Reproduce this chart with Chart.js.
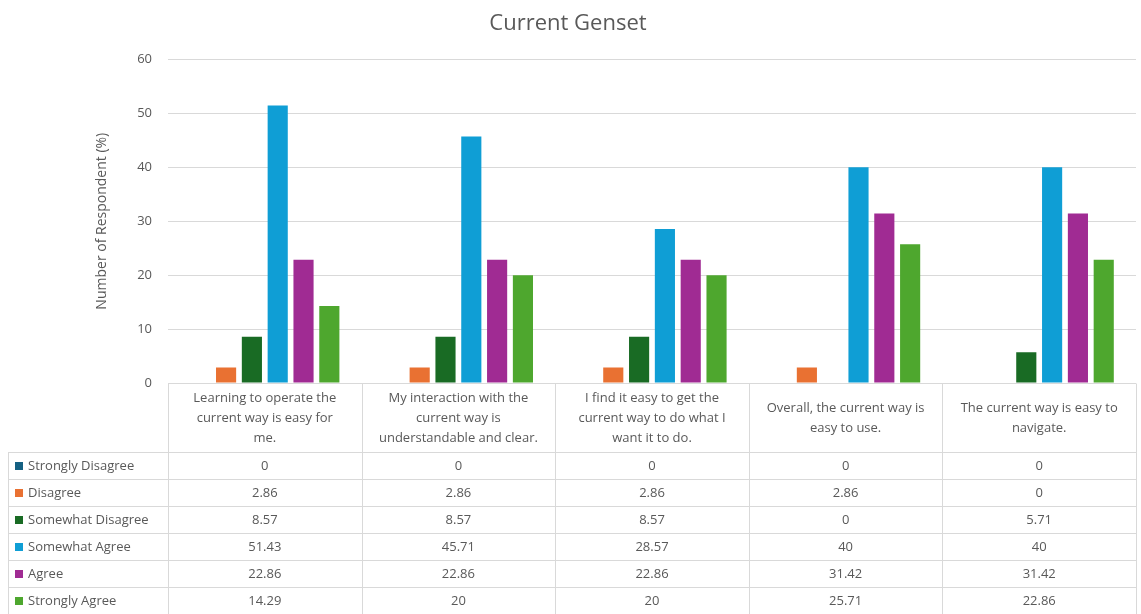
<!DOCTYPE html>
<html>
<head>
<meta charset="utf-8">
<script src="https://cdn.jsdelivr.net/npm/chart.js@4.4.1/dist/chart.umd.min.js"></script>
<style>
  html, body { margin: 0; padding: 0; background: #fff; }
  #wrap { width: 1141px; height: 614px; }
</style>
</head>
<body>
<div id="wrap"><canvas id="gensetChart" width="1141" height="614"></canvas></div>
<script>
// survey statements, already split into the lines shown in the table header
const categories = [
    ['Learning to operate the', 'current way is easy for', 'me.'],
    ['My interaction with the', 'current way is', 'understandable and clear.'],
    ['I find it easy to get the', 'current way to do what I', 'want it to do.'],
    ['Overall, the current way is', 'easy to use.'],
    ['The current way is easy to', 'navigate.']
];

const seriesNames = ['Strongly Disagree', 'Disagree', 'Somewhat Disagree', 'Somewhat Agree', 'Agree', 'Strongly Agree'];
const seriesColors = ['#156082', '#E97132', '#196B24', '#0F9ED5', '#A02B93', '#4EA72E'];

const stronglyDisagree = [0, 0, 0, 0, 0];
const disagree = [2.86, 2.86, 2.86, 2.86, 0];
const somewhatDisagree = [8.57, 8.57, 8.57, 0, 5.71];
const somewhatAgree = [51.43, 45.71, 28.57, 40, 40];
const agree = [22.86, 22.86, 22.86, 31.42, 31.42];
const stronglyAgree = [14.29, 20, 20, 25.71, 22.86];

const seriesValues = [stronglyDisagree, disagree, somewhatDisagree, somewhatAgree, agree, stronglyAgree];

const yMin = 0;
const yMax = 60;
const yStep = 10;

const textColor = '#595959';
const lineColor = '#d9d9d9';
const fontFamily = "'Open Sans', 'Liberation Sans', sans-serif";

// table geometry below the plot
const headerHeight = 69;
const rowHeight = 27;
const tableLeft = 8;
const yAxisWidth = 168;

// draws the data table (header row with the statements + one row per series)
const dataTablePlugin = {
    id: 'dataTable',
    afterDraw(chart) {
        const ctx = chart.ctx;
        const area = chart.chartArea;
        const xScale = chart.scales.x;
        const n = categories.length;
        const colWidth = (area.right - area.left) / n;
        const top = Math.round(area.bottom) + 0.5;
        const rowsTop = top + headerHeight;
        const bottom = rowsTop + rowHeight * seriesNames.length;

        ctx.save();
        ctx.strokeStyle = lineColor;
        ctx.lineWidth = 1;

        // header top line (acts as the x axis line)
        ctx.beginPath();
        ctx.moveTo(area.left, top);
        ctx.lineTo(area.right, top);
        ctx.stroke();

        // horizontal row lines
        for (let r = 0; r <= seriesNames.length; r++) {
            const y = rowsTop + r * rowHeight;
            ctx.beginPath();
            ctx.moveTo(tableLeft, y);
            ctx.lineTo(area.right, y);
            ctx.stroke();
        }

        // vertical column lines
        for (let c = 0; c <= n; c++) {
            const x = Math.round(area.left + c * colWidth) + 0.5;
            ctx.beginPath();
            ctx.moveTo(x, top);
            ctx.lineTo(x, bottom);
            ctx.stroke();
        }
        ctx.beginPath();
        ctx.moveTo(tableLeft + 0.5, rowsTop);
        ctx.lineTo(tableLeft + 0.5, bottom);
        ctx.stroke();

        ctx.fillStyle = textColor;
        ctx.font = '13px ' + fontFamily;
        ctx.textAlign = 'center';
        ctx.textBaseline = 'middle';

        // statement labels
        categories.forEach((lines, i) => {
            const cx = xScale.getPixelForValue(i);
            const lineH = 20;
            const startY = top + headerHeight / 2 - (lines.length - 1) * lineH / 2;
            lines.forEach((line, j) => {
                ctx.fillText(line, cx, startY + j * lineH);
            });
        });

        // series rows
        seriesNames.forEach((name, r) => {
            const cy = rowsTop + r * rowHeight + rowHeight / 2;
            ctx.fillStyle = seriesColors[r];
            ctx.fillRect(tableLeft + 7, Math.round(cy - 4), 8, 8);
            ctx.fillStyle = textColor;
            ctx.textAlign = 'left';
            ctx.fillText(name, tableLeft + 20, cy);
            ctx.textAlign = 'center';
            seriesValues[r].forEach((v, i) => {
                ctx.fillText(String(v), xScale.getPixelForValue(i), cy);
            });
        });

        ctx.restore();
    }
};

const ctx = document.getElementById('gensetChart').getContext('2d');

const chart = new Chart(ctx, {
    type: 'bar',
    data: {
        labels: categories,
        datasets: seriesNames.map((name, i) => ({
            label: name,
            data: seriesValues[i],
            backgroundColor: seriesColors[i],
            borderWidth: 0
        }))
    },
    options: {
        responsive: false,
        animation: false,
        devicePixelRatio: 1,
        datasets: {
            bar: {
                categoryPercentage: 0.8,
                barPercentage: 0.78
            }
        },
        layout: {
            padding: { left: 0, right: 5, top: 0, bottom: headerHeight + rowHeight * seriesNames.length }
        },
        plugins: {
            legend: { display: false },
            tooltip: { enabled: false },
            title: {
                display: true,
                text: 'Current Genset',
                color: textColor,
                font: { family: fontFamily, size: 22, weight: 'normal' },
                padding: { top: 11, bottom: 22 }
            }
        },
        scales: {
            x: {
                display: false
            },
            y: {
                min: yMin,
                max: yMax,
                afterFit(scale) {
                    scale.width = yAxisWidth;
                },
                ticks: {
                    stepSize: yStep,
                    color: textColor,
                    padding: 16,
                    font: { family: fontFamily, size: 13 }
                },
                grid: { color: lineColor, drawTicks: false },
                border: { display: false },
                title: {
                    display: true,
                    text: 'Number of Respondent (%)',
                    color: textColor,
                    font: { family: fontFamily, size: 14 },
                    padding: { top: 94, bottom: 0 }
                }
            }
        }
    },
    plugins: [dataTablePlugin]
});
</script>
</body>
</html>
